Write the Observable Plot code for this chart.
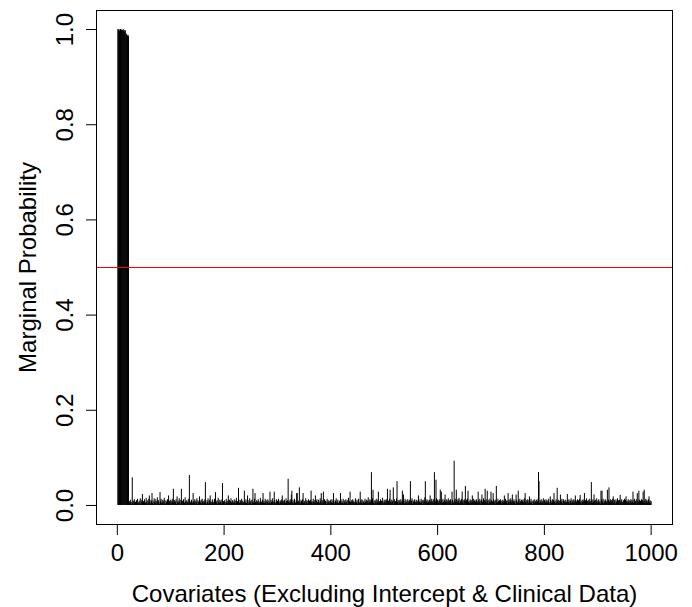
<!DOCTYPE html>
<html>
<head>
<meta charset="utf-8">
<script src="https://cdn.jsdelivr.net/npm/d3@7"></script>
<script src="https://cdn.jsdelivr.net/npm/@observablehq/plot@0.6"></script>
<style>
  html, body { margin: 0; padding: 0; background: #fff; }
  #chart svg { display: block; }
</style>
</head>
<body>
<div id="chart"></div>
<script>
// Marginal posterior inclusion probability for covariates 1..1000 (20 per line)
const prob = [
  1,.998,1,.996,.999,1,.997,.999,.995,.998,1,.996,.994,.998,.997,.988,.99,.987,.986,.988,
  .985,.004,.008,.003,.011,.006,.002,.058,.005,.009,.003,.012,.004,.007,.002,.010,.005,.013,.003,.006,
  .009,.004,.014,.002,.007,.011,.023,.005,.008,.003,.012,.006,.004,.015,.007,.002,.010,.005,.013,.02,
  .006,.003,.011,.008,.025,.004,.009,.002,.014,.007,.005,.012,.003,.008,.016,.004,.010,.006,.002,.027,
  .008,.013,.004,.006,.011,.003,.009,.015,.005,.002,.010,.007,.004,.012,.006,.02,.003,.009,.005,.011,
  .004,.008,.013,.006,.034,.003,.010,.005,.007,.012,.002,.018,.006,.009,.004,.014,.007,.003,.011,.034,
  .005,.009,.002,.012,.006,.004,.016,.008,.003,.010,.007,.005,.013,.004,.063,.009,.006,.002,.011,.007,
  .004,.025,.008,.005,.012,.003,.009,.006,.014,.002,.010,.007,.004,.018,.008,.005,.011,.003,.013,.006,
  .009,.004,.007,.012,.048,.005,.002,.010,.006,.014,.003,.008,.011,.02,.005,.007,.002,.012,.009,.004,
  .006,.013,.003,.027,.008,.005,.010,.002,.015,.007,.004,.011,.006,.009,.003,.012,.046,.005,.008,.004,
  .010,.006,.002,.013,.007,.004,.009,.02,.005,.011,.003,.008,.014,.006,.002,.010,.007,.004,.012,.005,
  .009,.003,.015,.006,.008,.004,.036,.011,.005,.002,.010,.007,.013,.004,.009,.006,.003,.030,.008,.005,
  .012,.004,.007,.02,.010,.003,.006,.014,.005,.009,.002,.011,.007,.034,.004,.008,.013,.025,.006,.003,
  .010,.005,.008,.012,.004,.007,.002,.015,.009,.006,.003,.011,.025,.005,.008,.004,.013,.006,.010,.002,
  .007,.012,.004,.009,.005,.028,.003,.011,.006,.008,.014,.004,.007,.028,.010,.005,.002,.012,.006,.009,
  .004,.013,.007,.003,.010,.006,.008,.012,.02,.005,.009,.002,.011,.006,.004,.014,.008,.003,.010,.055,
  .006,.009,.004,.012,.007,.022,.030,.005,.011,.003,.008,.013,.006,.004,.010,.025,.025,.007,.009,.005,
  .037,.006,.003,.011,.008,.005,.012,.025,.004,.009,.007,.002,.014,.006,.010,.003,.008,.012,.005,.009,
  .004,.011,.030,.006,.008,.003,.013,.007,.005,.010,.02,.004,.009,.012,.006,.002,.011,.007,.004,.014,
  .008,.025,.005,.010,.003,.028,.006,.012,.004,.009,.007,.002,.013,.005,.010,.006,.008,.003,.011,.007,
  .005,.012,.004,.009,.025,.006,.003,.010,.008,.014,.004,.007,.011,.005,.002,.009,.006,.025,.012,.004,
  .008,.005,.013,.003,.010,.007,.004,.012,.006,.009,.002,.011,.015,.005,.008,.028,.006,.003,.010,.007,
  .012,.004,.009,.006,.002,.014,.007,.005,.011,.003,.008,.013,.006,.004,.028,.009,.005,.012,.003,.010,
  .006,.008,.004,.013,.007,.002,.011,.005,.009,.016,.004,.007,.012,.006,.010,.069,.008,.014,.032,.005,
  .009,.003,.011,.007,.004,.013,.006,.010,.028,.005,.008,.002,.012,.006,.009,.004,.015,.007,.003,.011,
  .006,.010,.004,.012,.008,.034,.005,.009,.003,.013,.032,.007,.004,.011,.006,.009,.037,.002,.012,.005,
  .008,.004,.014,.050,.006,.010,.003,.011,.007,.005,.012,.004,.009,.030,.006,.022,.008,.003,.013,.005,
  .010,.006,.002,.012,.008,.004,.011,.007,.050,.005,.009,.014,.003,.010,.006,.008,.012,.004,.007,.011,
  .005,.009,.003,.02,.012,.006,.008,.004,.013,.007,.010,.002,.011,.006,.009,.016,.050,.005,.008,.012,
  .004,.010,.007,.003,.011,.02,.006,.009,.013,.005,.008,.012,.004,.069,.010,.007,.053,.014,.006,.011,
  .008,.004,.012,.009,.032,.006,.028,.010,.005,.013,.007,.003,.011,.022,.008,.006,.012,.004,.009,.014,
  .006,.010,.005,.012,.008,.003,.028,.011,.007,.004,.093,.009,.013,.006,.032,.010,.005,.012,.008,.015,
  .004,.011,.007,.009,.013,.028,.006,.010,.003,.012,.008,.040,.005,.011,.007,.014,.030,.006,.009,.004,
  .012,.008,.005,.010,.02,.006,.013,.003,.009,.011,.007,.004,.012,.008,.005,.028,.010,.006,.013,.003,
  .009,.011,.022,.006,.008,.014,.004,.010,.034,.007,.012,.005,.03,.009,.003,.011,.007,.013,.006,.028,
  .010,.004,.008,.025,.012,.006,.009,.003,.011,.040,.007,.005,.013,.008,.004,.010,.006,.012,.009,.003,
  .007,.011,.005,.009,.02,.006,.013,.004,.008,.010,.003,.025,.007,.012,.005,.009,.014,.006,.010,.022,
  .004,.008,.012,.006,.009,.003,.022,.011,.007,.005,.030,.010,.004,.013,.008,.006,.011,.002,.009,.012,
  .005,.008,.014,.025,.006,.010,.003,.012,.007,.004,.011,.018,.009,.005,.013,.006,.008,.002,.010,.007,
  .012,.004,.009,.006,.011,.003,.008,.013,.069,.050,.005,.010,.007,.012,.004,.009,.006,.014,.003,.011,
  .008,.005,.012,.007,.010,.004,.009,.013,.006,.002,.018,.011,.005,.008,.012,.004,.010,.025,.007,.009,
  .003,.012,.006,.036,.008,.011,.005,.009,.004,.022,.010,.007,.013,.003,.008,.012,.006,.009,.004,.011,
  .007,.005,.023,.010,.006,.012,.003,.009,.008,.014,.004,.011,.007,.005,.012,.009,.003,.02,.010,.006,
  .008,.012,.004,.010,.007,.013,.021,.005,.009,.003,.011,.006,.008,.012,.025,.004,.010,.007,.014,.005,
  .009,.003,.011,.006,.013,.008,.004,.048,.010,.005,.012,.007,.022,.009,.003,.011,.006,.014,.008,.004,
  .010,.012,.005,.008,.003,.03,.011,.030,.007,.013,.004,.009,.006,.012,.010,.005,.008,.032,.003,.011,
  .037,.006,.009,.012,.004,.010,.007,.013,.018,.005,.011,.008,.003,.012,.006,.009,.014,.004,.010,.007,
  .011,.021,.005,.009,.012,.006,.003,.010,.008,.013,.004,.011,.018,.007,.009,.005,.012,.006,.010,.003,
  .008,.012,.005,.011,.007,.028,.004,.010,.013,.006,.009,.003,.012,.025,.008,.006,.030,.011,.004,.009,
  .007,.012,.005,.010,.028,.006,.032,.009,.004,.013,.008,.011,.005,.009,.012,.018,.006,.010,.004,.008
];
const xTicks = [0, 200, 400, 600, 800, 1000];
const yTicks = [0, 0.2, 0.4, 0.6, 0.8, 1.0];
const yTickLabels = ["0.0", "0.2", "0.4", "0.6", "0.8", "1.0"];
const threshold = [0.5];
const xTitle = "Covariates (Excluding Intercept & Clinical Data)";
const yTitle = "Marginal Probability";

const data = prob.map((p, i) => ({covariate: i + 1, p}));
const yLab = yTicks.map((v, i) => ({v, label: yTickLabels[i]}));

const FS = 24;
const chart = Plot.plot({
  width: 692,
  height: 607,
  marginLeft: 96,
  marginRight: 20,
  marginTop: 10,
  marginBottom: 83,
  style: {fontFamily: "'Liberation Sans', Arial, Helvetica, sans-serif", fontSize: FS + "px", background: "#fff", color: "#000"},
  x: {domain: [-39, 1040], label: null},
  y: {domain: [-0.04, 1.04], label: null},
  marks: [
    Plot.ruleX(data, {x: "covariate", y1: 0, y2: "p", stroke: "black", strokeWidth: 1}),
    Plot.ruleY(threshold, {y: d => d, stroke: "#ff0000", strokeWidth: 1}),
    Plot.frame({stroke: "black", strokeWidth: 1}),
    Plot.axisX({ticks: xTicks, tickSize: 11, tickPadding: 8, tickFormat: d => String(d), fontSize: FS, label: null}),
    Plot.axisY({ticks: yTicks, tickSize: 10, tickFormat: () => "", label: null}),
    Plot.text(yLab, {y: "v", text: "label", frameAnchor: "left", dx: -31, rotate: -90, textAnchor: "middle", lineAnchor: "middle", fontSize: FS, fill: "black"}),
    Plot.text([xTitle], {frameAnchor: "bottom", dy: 70, textAnchor: "middle", lineAnchor: "middle", fontSize: FS, fill: "black"}),
    Plot.text([yTitle], {frameAnchor: "left", dx: -68, rotate: -90, textAnchor: "middle", lineAnchor: "middle", fontSize: FS, fill: "black"})
  ]
});
document.getElementById("chart").appendChild(chart);
</script>
</body>
</html>
